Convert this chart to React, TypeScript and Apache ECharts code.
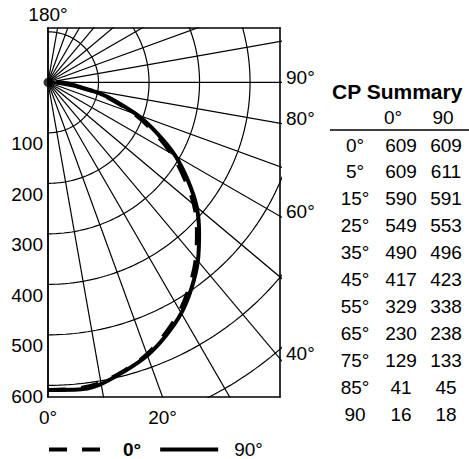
import React, { useEffect, useRef } from "react";
import * as echarts from "echarts";

// ---- data ----
const candelaAngles = [0, 5, 15, 25, 35, 45, 55, 65, 75, 85, 90];
const plane0 = [609, 609, 590, 549, 490, 417, 329, 230, 129, 41, 16];
const plane90 = [609, 611, 591, 553, 496, 423, 338, 238, 133, 45, 18];
const tableAngleLabels = ["0°", "5°", "15°", "25°", "35°", "45°", "55°", "65°", "75°", "85°", "90"];
const tableTitle = "CP Summary";
const tableHeader = ["0°", "90"];
const seriesNames = ["0°", "90°"];
const ringValues = [100, 200, 300, 400, 500, 600, 700];
const rayAngles = [0, 10, 20, 30, 40, 50, 60, 70, 80, 90, 100, 110, 120, 130, 140, 150, 160, 170, 180];
const leftTickLabels = [100, 200, 300, 400, 500, 600];
const rightAngleLabels = [90, 80, 60, 40];
const bottomAngleLabels = [0, 20];
const topAngleLabel = "180°";
const sourcePoint = [[0, 0]];

// ---- axis extents (candela units) ----
const X_MAX = 459.3;
const Y_MIN = -623;
const Y_MAX = 107.5;
// label offsets in candela units (about 11px down on the left, 5px up on the right)
const LEFT_LABEL_SHIFT = 22;
const RIGHT_LABEL_SHIFT = 10;

const FONT = '"Liberation Sans", Arial, Helvetica, sans-serif';
const RAD = Math.PI / 180;

function toXY(angleDeg: number, r: number) {
  return [r * Math.sin(angleDeg * RAD), -r * Math.cos(angleDeg * RAD)];
}

export default function App() {
  const ref = useRef<HTMLDivElement>(null);

  useEffect(() => {
    if (!ref.current) return;
    const chart = echarts.init(ref.current, null, { renderer: "svg" });

    const gridLineStyle = { color: "#000", width: 1.2 };

    const raySeries = rayAngles.map((a) => ({
      type: "line",
      silent: true,
      symbol: "none",
      z: 1,
      lineStyle: gridLineStyle,
      data: [toXY(a, 0), toXY(a, 1500)],
    }));

    const ringSeries = ringValues.map((r) => {
      const pts: number[][] = [];
      for (let a = 0; a <= 180; a += 1) pts.push(toXY(a, r));
      return {
        type: "line",
        silent: true,
        symbol: "none",
        z: 1,
        lineStyle: gridLineStyle,
        data: pts,
      };
    });

    const curve0 = candelaAngles.map((a, i) => toXY(a, plane0[i]));
    const curve90 = candelaAngles.map((a, i) => toXY(a, plane90[i]));

    const frameLine = { show: true, onZero: false, lineStyle: { color: "#000", width: 1.6 } };
    const labelBase = { color: "#000", fontSize: 19, fontFamily: FONT };

    const rowY = (i: number) => 145 + i * 26.9;
    const textEl = (text: string, x: number, y: number, align: string, size = 19, bold = false) => ({
      type: "text",
      style: {
        text,
        x,
        y,
        fill: "#000",
        font: `${bold ? "bold " : ""}${size}px ${FONT}`,
        textAlign: align,
        textVerticalAlign: "middle",
        align,
        verticalAlign: "middle",
      },
    });

    const tableElements: any[] = [];
    tableElements.push(textEl(tableTitle, 332, 91, "left", 21, true));
    tableElements.push(textEl(tableHeader[0], 393, 117, "center"));
    tableElements.push(textEl(tableHeader[1], 443, 117, "center"));
    tableElements.push({
      type: "line",
      shape: { x1: 330, y1: 130, x2: 469, y2: 130 },
      style: { stroke: "#000", lineWidth: 1.5 },
    });
    tableAngleLabels.forEach((lab, i) => {
      tableElements.push(textEl(lab, 355, rowY(i), "center"));
      tableElements.push(textEl(String(plane0[i]), 401, rowY(i), "center"));
      tableElements.push(textEl(String(plane90[i]), 446, rowY(i), "center"));
    });

    chart.setOption({
      animation: false,
      backgroundColor: "#fff",
      grid: { left: 48, top: 28, width: 232, height: 369, containLabel: false },
      xAxis: [
        {
          type: "value",
          min: 0,
          max: X_MAX,
          position: "bottom",
          axisLine: frameLine,
          axisTick: { show: false },
          splitLine: { show: false },
          axisLabel: {
            ...labelBase,
            margin: 11,
            customValues: bottomAngleLabels.map((a) => -Y_MIN * Math.tan(a * RAD)),
            formatter: (v: number) => Math.round(Math.atan(v / -Y_MIN) / RAD) + "°",
          },
        },
        {
          type: "value",
          min: 0,
          max: X_MAX,
          position: "top",
          axisLine: frameLine,
          axisTick: { show: false },
          splitLine: { show: false },
          axisLabel: {
            ...labelBase,
            margin: 4,
            customValues: [0],
            formatter: () => topAngleLabel,
          },
        },
      ],
      yAxis: [
        {
          type: "value",
          min: Y_MIN,
          max: Y_MAX,
          position: "left",
          axisLine: frameLine,
          axisTick: { show: false },
          splitLine: { show: false },
          axisLabel: {
            ...labelBase,
            margin: 5,
            customValues: leftTickLabels.map((v) => -(v + LEFT_LABEL_SHIFT)),
            formatter: (v: number) => String(Math.round((-v - LEFT_LABEL_SHIFT) / 100) * 100),
          },
        },
        {
          type: "value",
          min: Y_MIN,
          max: Y_MAX,
          position: "right",
          axisLine: frameLine,
          axisTick: { show: false },
          splitLine: { show: false },
          axisLabel: {
            ...labelBase,
            margin: 6,
            customValues: rightAngleLabels.map((a) => -X_MAX / Math.tan(a * RAD) + RIGHT_LABEL_SHIFT),
            formatter: (v: number) =>
              Math.round(Math.atan2(X_MAX, -(v - RIGHT_LABEL_SHIFT)) / RAD) + "°",
          },
        },
      ],
      legend: {
        data: [
          { name: seriesNames[0], textStyle: { fontWeight: "bold" } },
          { name: seriesNames[1] },
        ],
        left: 47,
        top: 440,
        padding: 0,
        itemWidth: 58,
        itemHeight: 14,
        itemGap: 17,
        selectedMode: false,
        itemStyle: { opacity: 0 },
        lineStyle: { width: 4 },
        textStyle: { color: "#000", fontSize: 19, fontFamily: FONT, padding: [0, 0, 0, 11] },
      },
      graphic: tableElements,
      series: [
        ...ringSeries,
        ...raySeries,
        {
          type: "scatter",
          silent: true,
          symbolSize: 9,
          itemStyle: { color: "#000" },
          z: 4,
          data: sourcePoint,
        },
        {
          name: seriesNames[0],
          type: "line",
          symbol: "none",
          smooth: 0.4,
          z: 3,
          lineStyle: { color: "#000", width: 4, type: [18, 15] },
          itemStyle: { color: "#000" },
          data: curve0,
        },
        {
          name: seriesNames[1],
          type: "line",
          symbol: "none",
          smooth: 0.4,
          z: 3,
          lineStyle: { color: "#000", width: 4 },
          itemStyle: { color: "#000" },
          data: curve90,
        },
      ],
    });

    return () => chart.dispose();
  }, []);

  return (
    <div
      ref={ref}
      style={{ position: "fixed", left: 0, top: 0, width: 469, height: 459, background: "#fff" }}
    />
  );
}
